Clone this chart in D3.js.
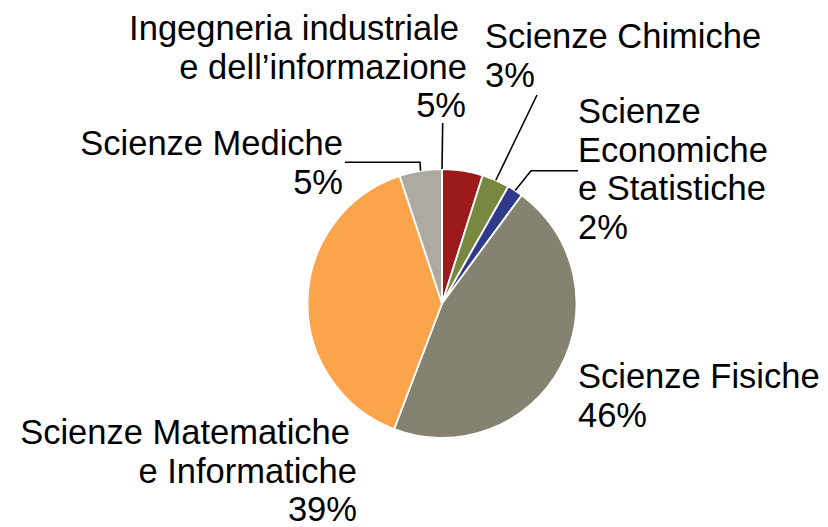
<!DOCTYPE html>
<html>
<head>
<meta charset="utf-8">
<script src="https://cdn.jsdelivr.net/npm/d3@7"></script>
<style>
  body { margin: 0; background: #fff; }
  text { font-family: "Liberation Sans", Arial, sans-serif; fill: #000; }
</style>
</head>
<body>
<div id="chart"></div>
<script>
// data, clockwise from 12 o'clock
var categories = ["Ingegneria industriale e dell\u2019informazione", "Scienze Chimiche",
    "Scienze Economiche e Statistiche", "Scienze Fisiche",
    "Scienze Matematiche e Informatiche", "Scienze Mediche"];
var values = [4.9, 3.3, 1.9, 45.7, 39.1, 5.1];
var colors = ["#9c1a1c", "#77883f", "#2f3a8a", "#858271", "#fba44b", "#adaaa2"];
// how the label text is broken into lines
var labelLines = [
    ["Ingegneria industriale", "e dell\u2019informazione"],
    ["Scienze Chimiche"],
    ["Scienze", "Economiche", "e Statistiche"],
    ["Scienze Fisiche"],
    ["Scienze Matematiche", "e Informatiche"],
    ["Scienze Mediche"]
];

var width = 828, height = 527;
var cx = 442, cy = 303.5, radius = 134.5;
var fontSize = 34.5, lineH = 38.5;

// label placement: anchor, x per line, first baseline, leader elbows
var labelPos = [
    {anchor: "end", xs: [459, 467, 466], y: 40, leader: [[442.7, 123]], target: "start"},
    {anchor: "start", xs: [485, 485], y: 48, leader: [[537, 95]], target: "mid"},
    {anchor: "start", xs: [578, 578, 578, 578], y: 123.3, leader: [[578, 170.7], [531, 170.7]], target: "mid"},
    {anchor: "start", xs: [578, 578], y: 388, leader: null},
    {anchor: "end", xs: [350, 357, 357], y: 444, leader: null},
    {anchor: "end", xs: [343, 343], y: 155, leader: [[345, 162.3], [420, 162.3]], target: "mid"}
];

var svg = d3.select("#chart").append("svg")
    .attr("width", width)
    .attr("height", height);

var pie = d3.pie().sort(null).value(function (d) { return d; });
var arcs = pie(values);
var arc = d3.arc().innerRadius(0).outerRadius(radius);

var g = svg.append("g")
    .attr("transform", "translate(" + cx + "," + cy + ")");

g.selectAll("path.slice")
    .data(arcs)
    .enter().append("path")
    .attr("class", "slice")
    .attr("d", arc)
    .attr("fill", function (d, i) { return colors[i]; })
    .attr("stroke", "#fff")
    .attr("stroke-width", 1.8)
    .attr("stroke-linejoin", "round");

// leader lines
var line = d3.line();
arcs.forEach(function (d, i) {
    var p = labelPos[i];
    if (!p.leader) return;
    var a = p.target == "start" ? d.startAngle : (d.startAngle + d.endAngle) / 2;
    var end = [cx + radius * Math.sin(a), cy - radius * Math.cos(a)];
    svg.append("path")
        .attr("d", line(p.leader.concat([end])))
        .attr("fill", "none")
        .attr("stroke", "#000")
        .attr("stroke-width", 1.6);
});

// labels
var fmt = function (v) { return Math.round(v) + "%"; };
arcs.forEach(function (d, i) {
    var p = labelPos[i];
    var lines = labelLines[i].concat([fmt(values[i])]);
    var t = svg.append("text")
        .attr("text-anchor", p.anchor)
        .style("font-size", fontSize + "px");
    lines.forEach(function (s, j) {
        t.append("tspan")
            .attr("x", p.xs[j])
            .attr("y", p.y + j * lineH)
            .text(s);
    });
});
</script>
</body>
</html>
